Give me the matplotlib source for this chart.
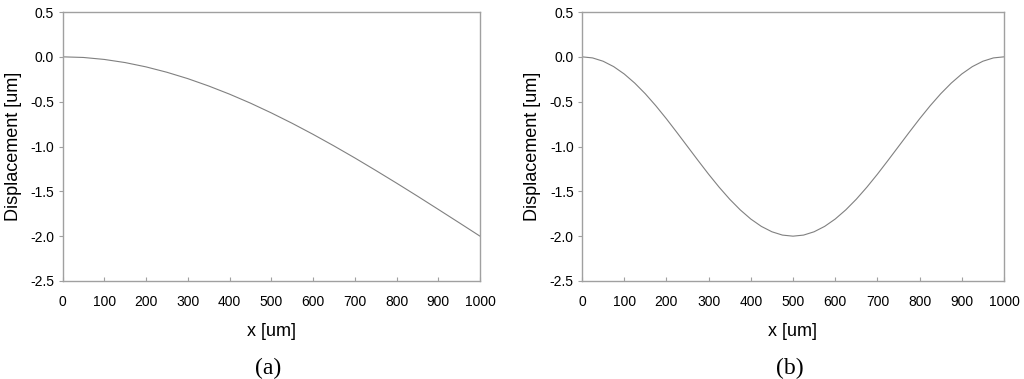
import matplotlib
matplotlib.use("Agg")
import matplotlib.pyplot as plt

# Panel (a): displacement, x step 50 um
x_a = [0, 50, 100, 150, 200, 250, 300, 350, 400, 450, 500,
       550, 600, 650, 700, 750, 800, 850, 900, 950, 1000]
y_a = [0.0, -0.007, -0.029, -0.064, -0.112, -0.172, -0.243, -0.325, -0.416, -0.516, -0.625,
       -0.741, -0.864, -0.993, -1.127, -1.266, -1.408, -1.553, -1.701, -1.850, -2.0]

# Panel (b): displacement, x step 25 um
x_b = [0, 25, 50, 75, 100, 125, 150, 175, 200, 225, 250, 275, 300, 325, 350, 375, 400,
       425, 450, 475, 500, 525, 550, 575, 600, 625, 650, 675, 700, 725, 750, 775, 800,
       825, 850, 875, 900, 925, 950, 975, 1000]
y_b = [0.0, -0.012, -0.049, -0.109, -0.191, -0.293, -0.412, -0.546, -0.691, -0.844, -1.0,
       -1.156, -1.309, -1.454, -1.588, -1.707, -1.809, -1.891, -1.951, -1.988, -2.0,
       -1.988, -1.951, -1.891, -1.809, -1.707, -1.588, -1.454, -1.309, -1.156, -1.0,
       -0.844, -0.691, -0.546, -0.412, -0.293, -0.191, -0.109, -0.049, -0.012, 0.0]

x_ticks = [0, 100, 200, 300, 400, 500, 600, 700, 800, 900, 1000]
y_ticks = [0.5, 0.0, -0.5, -1.0, -1.5, -2.0, -2.5]
panel_labels = ["(a)", "(b)"]

plt.rcParams['font.family'] = ['Liberation Sans', 'DejaVu Sans']

W, H = 1024, 379
fig = plt.figure(figsize=(W / 100, H / 100), dpi=100)

axes_px = [(62.5, 480), (582, 1004)]
top_px, bot_px = 12, 281
spine_col = '#a0a0a0'
line_col = '#808080'

for (l, r), xs, ys, lab in zip(axes_px, [x_a, x_b], [y_a, y_b], panel_labels):
    ax = fig.add_axes([l / W, 1 - bot_px / H, (r - l) / W, (bot_px - top_px) / H])
    ax.plot(xs, ys, color=line_col, lw=0.8)
    ax.set_xlim(0, 1000)
    ax.set_ylim(-2.5, 0.5)
    ax.set_xticks(x_ticks)
    ax.set_yticks(y_ticks)
    ax.set_yticklabels([f"{v:.1f}" for v in y_ticks])
    for s in ax.spines.values():
        s.set_color(spine_col)
        s.set_linewidth(1.0)
    ax.tick_params(axis='x', direction='in', length=3, width=0.8, color=spine_col,
                   labelsize=10, pad=10, labelcolor='black')
    ax.tick_params(axis='y', direction='out', length=3, width=0.8, color=spine_col,
                   labelsize=10, pad=3, labelcolor='black')
    ax.set_xlabel("x [um]", fontsize=13, labelpad=10)
    ax.set_ylabel("Displacement [um]", fontsize=13, labelpad=6)
    fig.text(((l + r) / 2 - 3) / W, 1 - 368 / H, lab, ha='center', va='center',
             fontsize=17, family=['Liberation Serif', 'DejaVu Serif'])

fig.savefig("out.png", dpi=100)
